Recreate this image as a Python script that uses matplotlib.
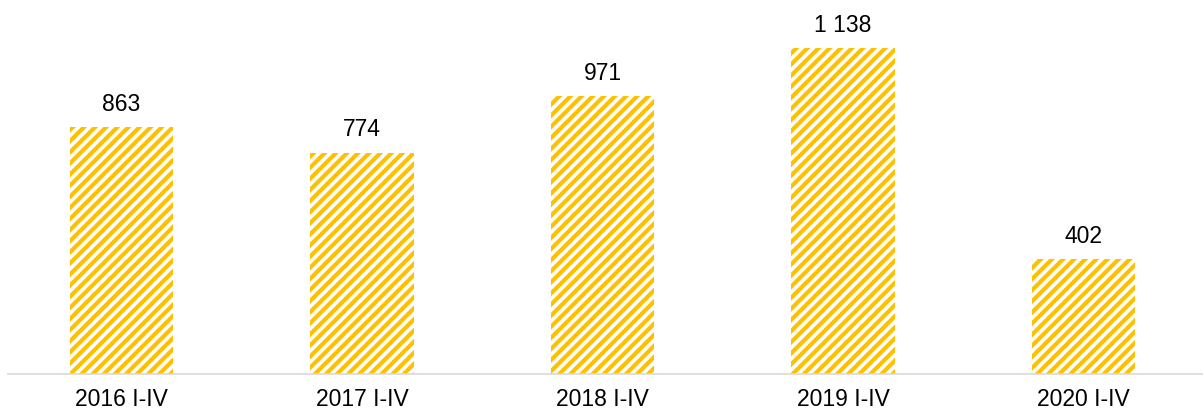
import matplotlib
matplotlib.use('Agg')
from matplotlib import pyplot as plt

categories = ['2016 I-IV', '2017 I-IV', '2018 I-IV', '2019 I-IV', '2020 I-IV']
values = [863, 774, 971, 1138, 402]

plt.rcParams['font.family'] = ['Liberation Sans', 'DejaVu Sans']
plt.rcParams['hatch.linewidth'] = 3.0

fig = plt.figure(figsize=(12.03, 4.13), dpi=100)
ax = fig.add_axes([8 / 1203, 39 / 413, 1195 / 1203, 374 / 413])

x = range(len(categories))
bars = ax.bar(x, values, width=0.43, facecolor='white', edgecolor='#FFC000',
              linewidth=0, hatch='///')

for b, v in zip(bars, values):
    lab = f'{v:,}'.replace(',', ' ')
    ax.annotate(lab, (b.get_x() + b.get_width() / 2, v), xytext=(0, 8),
                textcoords='offset points', ha='center', va='bottom',
                fontsize=16.5, color='#000000')

ax.set_xlim(-0.472, 4.497)
ax.set_ylim(0, 1307)
ax.set_xticks(list(x))
ax.set_xticklabels(categories, fontsize=16.5)
ax.tick_params(axis='x', length=0, pad=10)
ax.set_yticks([])
for s in ['top', 'right', 'left']:
    ax.spines[s].set_visible(False)
ax.spines['bottom'].set_color('#D9D9D9')
ax.spines['bottom'].set_linewidth(1.2)

fig.savefig('out.png', dpi=100)
